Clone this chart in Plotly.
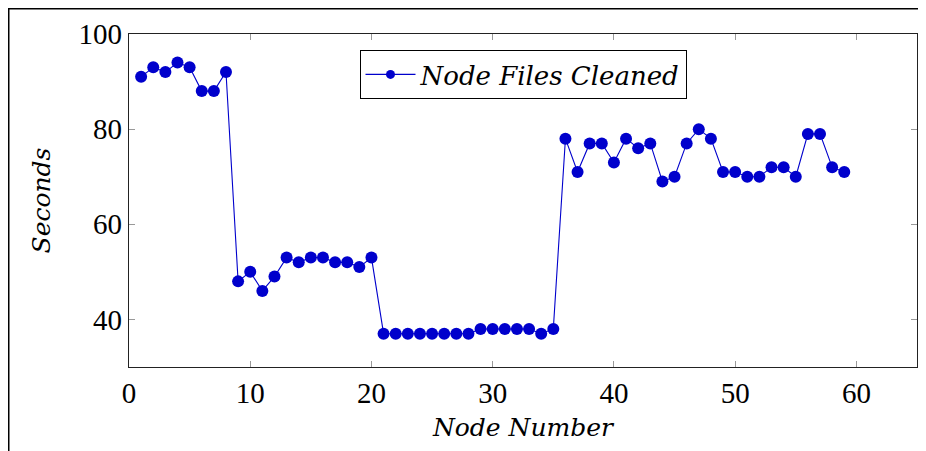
import plotly.graph_objects as go

node_numbers = list(range(1, 60))
seconds = [91, 93, 92, 94, 93, 88, 88, 92,
           48, 50, 46, 49, 53, 52, 53, 53, 52, 52, 51, 53,
           37, 37, 37, 37, 37, 37, 37, 37, 38, 38, 38, 38, 38, 37, 38,
           78, 71, 77, 77, 73, 78, 76, 77, 69, 70, 77, 80, 78, 71, 71,
           70, 70, 72, 72, 70, 79, 79, 72, 71]
series_name = "Node Files Cleaned"
x_ticks = [0, 10, 20, 30, 40, 50, 60]
y_ticks = [40, 60, 80, 100]

BLUE = "#0000cc"
FONT = "Liberation Serif"
IFONT = "DejaVu Serif"

fig = go.Figure()
fig.add_trace(go.Scatter(
    x=node_numbers, y=seconds, mode="lines+markers",
    name="<i>" + series_name + "</i>", legendgroup="s", showlegend=False,
    line=dict(color=BLUE, width=1.1),
    marker=dict(color=BLUE, size=12),
))
# legend entry with the smaller legend marker of the reference
fig.add_trace(go.Scatter(
    x=[None], y=[None], mode="lines+markers",
    name="<i>" + series_name + "</i>", legendgroup="s", showlegend=True,
    line=dict(color=BLUE, width=1.1),
    marker=dict(color=BLUE, size=9),
))

axis_common = dict(
    showgrid=False, zeroline=False, showline=True, mirror="ticks",
    linecolor="#222", linewidth=1.2,
    ticks="inside", ticklen=6, tickcolor="#999", tickwidth=1,
    tickfont=dict(family=FONT, size=29, color="black"),
)

fig.update_xaxes(range=[0, 65], tickvals=x_ticks,
                 title=dict(text="<i>Node Number</i>", font=dict(family=IFONT, size=25, color="black"), standoff=10),
                 **axis_common)
fig.update_yaxes(range=[30, 100], tickvals=y_ticks,
                 title=dict(text="<i>Seconds</i>", font=dict(family=IFONT, size=25, color="black"), standoff=20),
                 **axis_common)

# page body has an 8px offset; compensate so the plot lands where the reference has it
OFF = 8
W, H = 926 - OFF, 451 - OFF
L, R, T, B = 129 - OFF, 9, 34 - OFF, 84
pw, ph = W - L - R, H - T - B

def px(xp):
    return (xp - OFF - L) / pw

def py(yp):
    return (H - B - (yp - OFF)) / ph

fig.update_layout(
    width=W, height=H,
    margin=dict(l=L, r=R, t=T, b=B),
    plot_bgcolor="white", paper_bgcolor="white",
    showlegend=True,
    legend=dict(x=0.5, xanchor="center", y=py(50), yanchor="top",
                bordercolor="black", borderwidth=1, bgcolor="white",
                font=dict(family=IFONT, size=26, color="black"),
                itemwidth=50),
    shapes=[
        dict(type="line", xref="paper", yref="paper",
             x0=px(8), x1=px(926), y0=py(8.5), y1=py(8.5),
             line=dict(color="black", width=2)),
        dict(type="line", xref="paper", yref="paper",
             x0=px(8.5), x1=px(8.5), y0=py(8), y1=py(451),
             line=dict(color="black", width=2)),
    ],
)

fig.write_html("out.html")
